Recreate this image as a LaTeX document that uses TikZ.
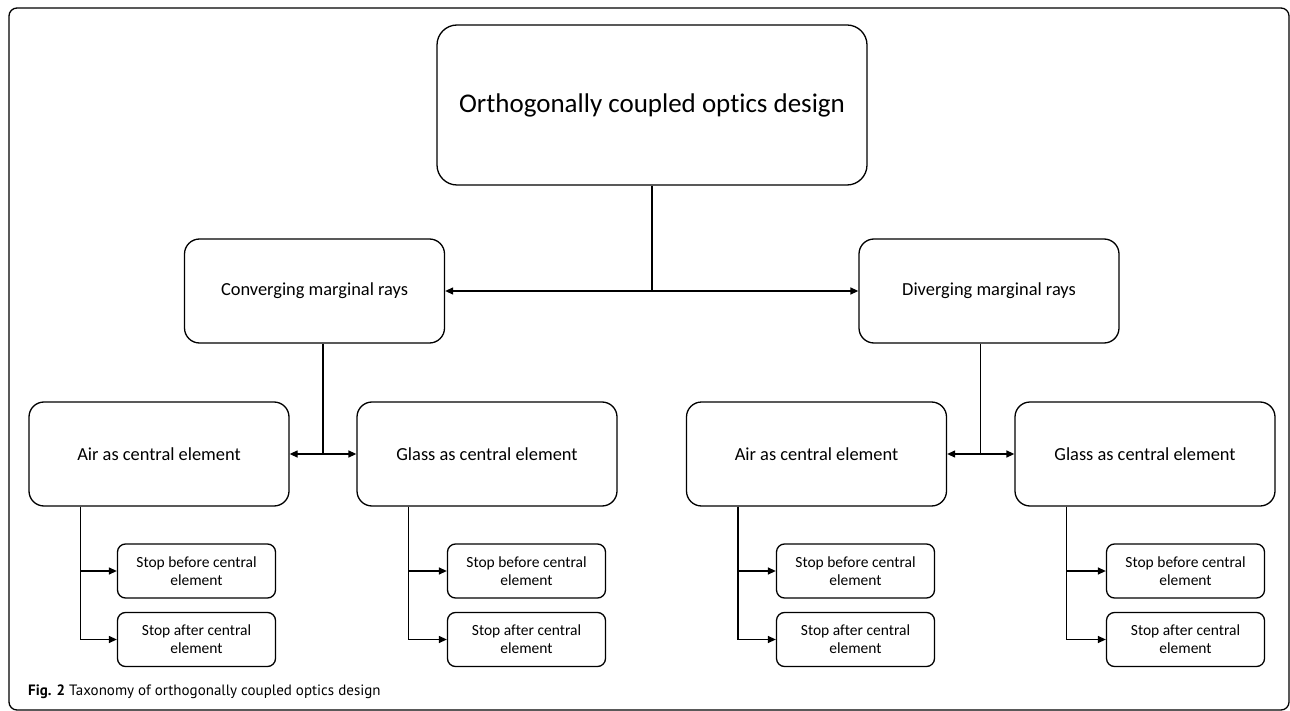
\documentclass[tikz,border=0pt]{standalone}
\usepackage{fontspec}
\setmainfont{Carlito}[Ligatures=NoCommon]
\newfontfamily\capfont{PT Sans}
\usetikzlibrary{arrows.meta,positioning,calc}

\tikzset{
  box/.style={draw, rounded corners=#1, line width=1.3pt, align=center, inner sep=0pt},
  topbox/.style={box=20pt, minimum width=430pt, minimum height=160pt, font=\fontsize{27}{32}\selectfont},
  midbox/.style={box=15pt, minimum width=260pt, minimum height=104pt, font=\fontsize{18.4}{22}\selectfont},
  stopbox/.style={box=8pt, minimum width=158pt, minimum height=54pt, font=\fontsize{15.5}{18}\selectfont},
  link/.style={line width=1.3pt, -{Triangle[length=8pt,width=7pt]}},
  dlink/.style={line width=1.3pt, {Triangle[length=8pt,width=7pt]}-{Triangle[length=8pt,width=7pt]}},
}

\begin{document}
\begin{tikzpicture}[x=1pt, y=-1pt]
  \useasboundingbox (0,0) rectangle (1290,711);
  % frame
  \draw[line width=1.3pt, rounded corners=8pt] (9,8) rectangle (1289,710);

  % top level
  \node[topbox] (top) at (652,105) {Orthogonally coupled optics design};

  % marginal rays
  \node[midbox] (conv) at (314.5,291) {Converging marginal rays};
  \node[midbox] (div) at (989,291) {Diverging marginal rays};

  % central element
  \node[midbox] (airL) at (159,454) {Air as central element};
  \node[midbox] (glassL) at (487,454) {Glass as central element};
  \node[midbox] (airR) at (816.5,454) {Air as central element};
  \node[midbox] (glassR) at (1145,454) {Glass as central element};

  % stop position
  \node[stopbox] (airLb) at (196.5,571) {Stop before central\\element};
  \node[stopbox] (airLa) at (196.5,639.5) {Stop after central\\element};
  \node[stopbox] (glassLb) at (526.5,571) {Stop before central\\element};
  \node[stopbox] (glassLa) at (526.5,639.5) {Stop after central\\element};
  \node[stopbox] (airRb) at (855.5,571) {Stop before central\\element};
  \node[stopbox] (airRa) at (855.5,639.5) {Stop after central\\element};
  \node[stopbox] (glassRb) at (1185.5,571) {Stop before central\\element};
  \node[stopbox] (glassRa) at (1185.5,639.5) {Stop after central\\element};

  % connectors
  \draw[dlink] (conv.east) -- (div.west);
  \draw[line width=1.3pt] (top.south) -- (top.south |- conv.east);

  \coordinate (jL) at ($(airL.east)!0.5!(glassL.west)$);
  \coordinate (jR) at ($(airR.east)!0.5!(glassR.west)$);
  \draw[dlink] (airL.east) -- (glassL.west);
  \draw[line width=1.3pt] (jL |- conv.south) -- (jL);
  \draw[dlink] (airR.east) -- (glassR.west);
  \draw[line width=1.3pt] (jR |- div.south) -- (jR);

  \foreach \p in {airL, glassL, airR, glassR} {
    \draw[link] ([xshift=52pt]\p.south west) |- (\p b.west);
    \draw[link] ([xshift=52pt]\p.south west) |- (\p a.west);
  }

  % caption
  \node[anchor=west, font=\capfont\fontsize{15}{17}\selectfont, inner sep=0pt] (cap) at (28,692)
    {\textbf{Fig. 2} Taxonomy of orthogonally coupled optics design};
\end{tikzpicture}
\end{document}
